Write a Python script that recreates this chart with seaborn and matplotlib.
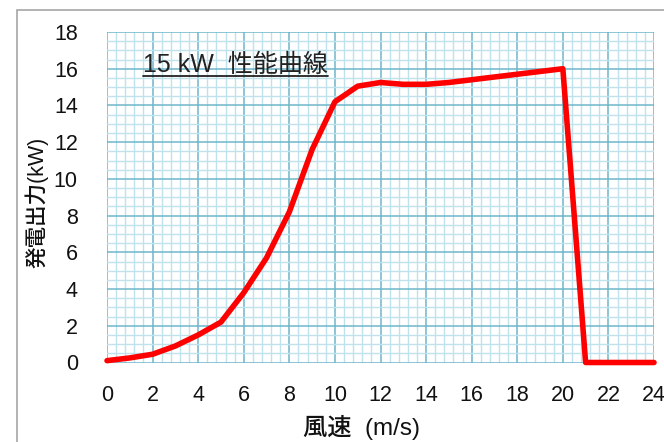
import matplotlib
matplotlib.use("Agg")
import matplotlib.pyplot as plt
import matplotlib.ticker as tkr
from matplotlib.lines import Line2D
from matplotlib.patches import Rectangle
import pandas as pd
import seaborn as sns

# wind speed (m/s) and generated power (kW)
wind_speed = [0, 1, 2, 3, 4, 5, 6, 7, 8, 9, 10, 11, 12,
              13, 14, 15, 16, 17, 18, 19, 20, 21, 22, 23, 24]
power_kw = [0.1, 0.25, 0.45, 0.9, 1.5, 2.2, 3.8, 5.7, 8.2, 11.6, 14.2, 15.05, 15.25,
            15.15, 15.15, 15.25, 15.4, 15.55, 15.7, 15.85, 16.0, 0, 0, 0, 0]
x_ticks = list(range(0, 25, 2))
y_ticks = list(range(0, 19, 2))
title_text = "15 kW  性能曲線"
x_label = "風速  (m/s)"
y_label = "発電出力(kW)"

sns.set_style("white")
plt.rcParams['font.family'] = ['Liberation Sans', 'Noto Sans CJK JP']

df = pd.DataFrame({'speed': wind_speed, 'power': power_kw})

fig = plt.figure(figsize=(6.64, 4.42), dpi=100, facecolor='white')
ax = fig.add_axes([107 / 664, (442 - 362.5) / 442, 547 / 664, 330.5 / 442])

# outer frame of the chart area (cut off at right and bottom)
fig.patches.append(Rectangle((17 / 664, -0.1), 1.0, (442 - 10) / 442 + 0.1,
                             transform=fig.transFigure, fill=False,
                             edgecolor='#a6a6a6', linewidth=1.2, zorder=0))

ax.set_xlim(0, 24)
ax.set_ylim(0, 18)
ax.xaxis.set_major_locator(tkr.FixedLocator(x_ticks))
ax.yaxis.set_major_locator(tkr.FixedLocator(y_ticks))
ax.xaxis.set_minor_locator(tkr.MultipleLocator(0.4))
ax.yaxis.set_minor_locator(tkr.MultipleLocator(0.5))
ax.grid(which='minor', color='#bfe2ec', linewidth=1.0, zorder=0)
ax.grid(which='major', color='#6fb6cb', linewidth=1.1, zorder=1)
ax.set_axisbelow(True)
for s in ax.spines.values():
    s.set_visible(False)

ax.tick_params(which='both', length=0)
ax.tick_params(axis='x', labelsize=15.5, pad=16, labelcolor='#111111')
ax.tick_params(axis='y', labelsize=15.5, pad=21, labelcolor='#111111')

sns.lineplot(data=df, x='speed', y='power', ax=ax, color='#ff0000',
             linewidth=4.0, clip_on=False, zorder=5)

ax.set_xlabel(x_label, fontsize=17.5, fontweight='medium', color='#111111')
ax.set_ylabel(y_label, fontsize=15.5, fontweight='medium', color='#111111')
ax.xaxis.set_label_coords(0.466, -0.158)
ax.yaxis.label.set_va('center')
ax.yaxis.set_label_coords(-0.129, 0.486)

t = ax.text(1.58, 15.82, title_text, fontsize=18, va='baseline', ha='left',
            color='#222222', zorder=6)

fig.canvas.draw()
bb = t.get_window_extent()
uy = bb.y0 + 1
fig.lines.append(Line2D([bb.x0, bb.x1], [uy, uy], transform=None,
                        color='#222222', linewidth=1.3))

fig.savefig('out.png', dpi=100, facecolor='white')
